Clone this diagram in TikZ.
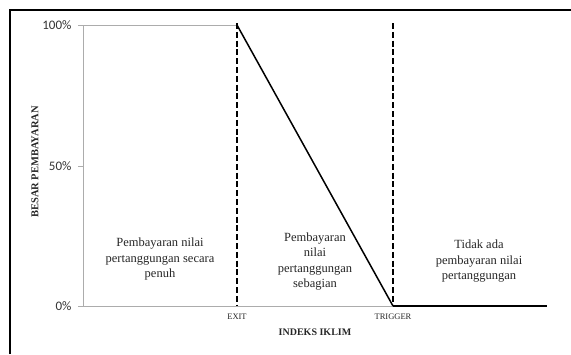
\documentclass[tikz,border=0pt]{standalone}
\usepackage{fontspec}
\setmainfont{Liberation Serif}
\newfontfamily\angkafont{Carlito}
\usetikzlibrary{positioning, calc}

\begin{document}
\begin{tikzpicture}[x=1pt, y=-1pt,
    sumbu/.style={gray!65, line width=0.8pt},
    batas/.style={line width=2.8pt, dash pattern=on 6pt off 2.8pt},
    teks/.style={align=center, text=black!85, font=\fontsize{12.5}{15.5}\selectfont},
    angka/.style={left, text=black!80, font=\angkafont\fontsize{13}{15}\selectfont}]
    \useasboundingbox (0,0) rectangle (571,354);

    % Bingkai
    \draw[line width=1.8pt] (10.3,354) -- (10.3,10.3) -- (571,10.3);

    % Titik utama
    \coordinate (O) at (83,306);
    \coordinate (atas) at (83,25);
    \coordinate (puncak) at (237,25);
    \coordinate (exit) at (237,306);
    \coordinate (trigger) at (393,306);
    \coordinate (ujung) at (547,306);

    % Sumbu
    \draw[sumbu] (puncak) -- (atas) -- (O) -- (trigger);
    \foreach \y/\t/\n in {25/100\%/s100, 166/50\%/s50, 306/0\%/s0} {
        \draw[sumbu] (78,\y) -- (83,\y);
        \node[angka] (\n) at (75,\y) {\t};
    }

    % Garis pembayaran
    \draw[line width=1.5pt] (puncak) -- (trigger);
    \draw[line width=1.8pt] (trigger) -- (ujung);

    % Batas EXIT dan TRIGGER
    \draw[batas] (237,23) -- (exit);
    \draw[batas] (393,23) -- (trigger);

    % Label sumbu
    \node[text=black!85, font=\fontsize{8.5}{10}\selectfont] (lexit) at (237,317) {EXIT};
    \node[text=black!85, font=\fontsize{8.5}{10}\selectfont] (ltrigger) at (393,317) {TRIGGER};
    \node[text=black!85, font=\bfseries\fontsize{10}{12}\selectfont] (xlabel) at (315,332) {INDEKS IKLIM};
    \node[rotate=90, text=black!85, font=\bfseries\fontsize{10.5}{12}\selectfont] (ylabel) at (35,162) {BESAR PEMBAYARAN};

    % Keterangan daerah
    \node[teks] (zona1) at (160,259) {Pembayaran nilai\\pertanggungan secara\\penuh};
    \node[teks] (zona2) at (315,261.5) {Pembayaran\\nilai\\pertanggungan\\sebagian};
    \node[teks] (zona3) at (479,261.5) {Tidak ada\\pembayaran nilai\\pertanggungan};
\end{tikzpicture}
\end{document}
